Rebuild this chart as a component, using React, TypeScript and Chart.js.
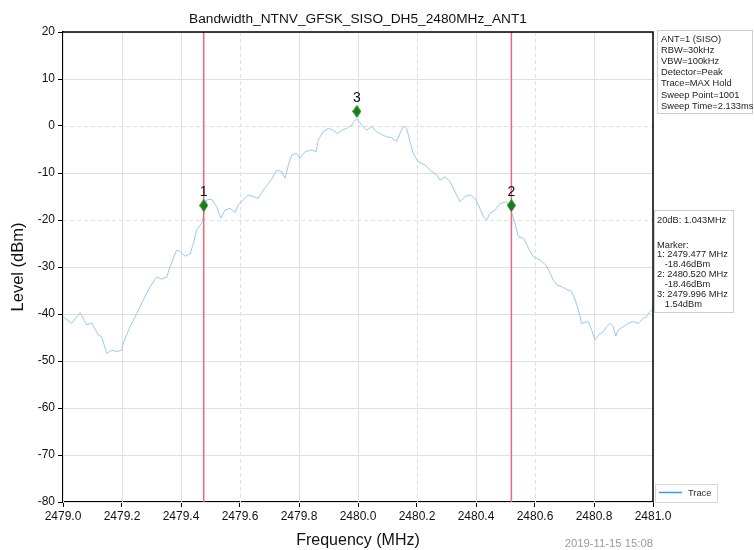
import React, { useEffect, useRef } from "react";
import { Chart, registerables } from "chart.js";

Chart.register(...registerables);

const TITLE = "Bandwidth_NTNV_GFSK_SISO_DH5_2480MHz_ANT1";
const X_TITLE = "Frequency (MHz)";
const Y_TITLE = "Level (dBm)";
const TIMESTAMP = "2019-11-15 15:08";
const LEGEND_LABEL = "Trace";

const X_MIN = 2479.0;
const X_MAX = 2481.0;
const Y_MIN = -80;
const Y_MAX = 20;

const xTicks = [2479.0, 2479.2, 2479.4, 2479.6, 2479.8, 2480.0, 2480.2, 2480.4, 2480.6, 2480.8, 2481.0];
const yTicks = [20, 10, 0, -10, -20, -30, -40, -50, -60, -70, -80];

const traceFreqs = [
  2479.001, 2479.029, 2479.058, 2479.080, 2479.097, 2479.120, 2479.131, 2479.148, 2479.165, 2479.182,
  2479.199, 2479.204, 2479.227, 2479.250, 2479.272, 2479.295, 2479.318, 2479.335, 2479.352, 2479.363,
  2479.385, 2479.397, 2479.414, 2479.431, 2479.442, 2479.453, 2479.470, 2479.478, 2479.487, 2479.504,
  2479.521, 2479.535, 2479.549, 2479.566, 2479.583, 2479.594, 2479.611, 2479.628, 2479.645, 2479.662,
  2479.679, 2479.696, 2479.707, 2479.724, 2479.741, 2479.753, 2479.764, 2479.775, 2479.792, 2479.803,
  2479.820, 2479.843, 2479.858, 2479.865, 2479.882, 2479.899, 2479.916, 2479.930, 2479.945, 2479.962,
  2479.979, 2479.986, 2479.996, 2480.013, 2480.029, 2480.046, 2480.063, 2480.080, 2480.097, 2480.114,
  2480.131, 2480.142, 2480.154, 2480.165, 2480.176, 2480.187, 2480.204, 2480.227, 2480.250, 2480.267,
  2480.278, 2480.295, 2480.312, 2480.329, 2480.346, 2480.363, 2480.380, 2480.397, 2480.408, 2480.425,
  2480.436, 2480.447, 2480.464, 2480.481, 2480.504, 2480.521, 2480.532, 2480.544, 2480.561, 2480.578,
  2480.594, 2480.617, 2480.640, 2480.651, 2480.662, 2480.674, 2480.691, 2480.708, 2480.724, 2480.736,
  2480.747, 2480.758, 2480.769, 2480.781, 2480.792, 2480.803, 2480.815, 2480.831, 2480.843, 2480.854,
  2480.865, 2480.874, 2480.882, 2480.899, 2480.916, 2480.933, 2480.950, 2480.967, 2480.978, 2480.990,
  2481.000,
];

const traceLevels = [
  -40.6, -42.0, -39.7, -42.3, -41.9, -44.5, -44.8, -48.4, -47.7, -48.0,
  -47.7, -46.2, -42.7, -39.9, -37.0, -34.2, -32.1, -32.6, -32.1, -29.9,
  -26.4, -26.7, -27.7, -27.2, -25.0, -22.1, -20.7, -18.5, -15.7, -15.6,
  -17.2, -19.6, -17.9, -17.5, -18.4, -16.8, -15.7, -14.7, -15.0, -15.4,
  -13.6, -12.3, -11.3, -9.4, -9.7, -11.1, -8.3, -6.2, -5.8, -6.9,
  -5.5, -5.1, -5.5, -3.0, -1.2, -0.5, -0.9, -1.6, -0.9, -0.5,
  0.2, 0.9, 1.5, 0.2, -0.9, -0.1, -1.2, -1.8, -2.3, -2.5,
  -3.3, -1.6, -0.1, -0.5, -3.3, -5.8, -7.6, -8.3, -9.7, -10.4,
  -11.5, -10.8, -11.8, -14.0, -16.1, -15.0, -14.7, -15.4, -16.8, -19.3,
  -20.0, -18.6, -17.9, -16.5, -16.1, -18.5, -20.7, -23.6, -23.9, -26.0,
  -27.8, -28.5, -29.8, -31.3, -32.8, -33.8, -34.2, -34.8, -35.2, -37.0,
  -39.1, -42.0, -41.8, -41.6, -43.4, -45.5, -44.5, -43.8, -42.7, -42.0,
  -42.7, -44.7, -43.4, -42.7, -42.0, -41.6, -42.0, -40.9, -40.6, -39.5,
  -39.0,
];

const markerLabels = ["1", "2", "3"];
const markerFreqs = [2479.477, 2480.52, 2479.996];
const markerLevels = [-16.9, -16.9, 3.1];
const boundaryFreqs = [2479.477, 2480.52];

const infoLines = [
  "ANT=1 (SISO)",
  "RBW=30kHz",
  "VBW=100kHz",
  "Detector=Peak",
  "Trace=MAX Hold",
  "Sweep Point=1001",
  "Sweep Time=2.133ms",
];
const bandwidthLine = "20dB: 1.043MHz";
const markerInfoLines = [
  "Marker:",
  "1: 2479.477 MHz",
  "   -18.46dBm",
  "2: 2480.520 MHz",
  "   -18.46dBm",
  "3: 2479.996 MHz",
  "   1.54dBm",
];

const dashedXGrid = [2479.6, 2480.2, 2480.6];
const dashedYGrid = [0, -20];

const FONT = '"Liberation Sans", Arial, Helvetica, sans-serif';

export default function App() {
  const ref = useRef<HTMLCanvasElement | null>(null);

  useEffect(() => {
    const canvas = ref.current;
    if (!canvas) return;

    const diamond = document.createElement("canvas");
    diamond.width = 9;
    diamond.height = 13;
    const dctx = diamond.getContext("2d");
    if (dctx) {
      dctx.fillStyle = "#1a7f1a";
      dctx.beginPath();
      dctx.moveTo(4.5, 0);
      dctx.lineTo(9, 6.5);
      dctx.lineTo(4.5, 13);
      dctx.lineTo(0, 6.5);
      dctx.closePath();
      dctx.fill();
    }

    const gridPlugin = {
      id: "customGrid",
      beforeDatasetsDraw(chart: any) {
        const { ctx, chartArea } = chart;
        const xs = chart.scales.x;
        const ys = chart.scales.y;
        ctx.save();
        ctx.lineWidth = 1;
        ctx.strokeStyle = "#e0e0e0";
        xTicks.forEach((v) => {
          const px = Math.round(xs.getPixelForValue(v)) + 0.5;
          ctx.setLineDash(dashedXGrid.includes(v) ? [4, 3] : []);
          ctx.beginPath();
          ctx.moveTo(px, chartArea.top);
          ctx.lineTo(px, chartArea.bottom);
          ctx.stroke();
        });
        yTicks.forEach((v) => {
          const py = Math.round(ys.getPixelForValue(v)) + 0.5;
          ctx.setLineDash(dashedYGrid.includes(v) ? [4, 3] : []);
          ctx.beginPath();
          ctx.moveTo(chartArea.left, py);
          ctx.lineTo(chartArea.right, py);
          ctx.stroke();
        });
        ctx.restore();
      },
    };

    const overlayPlugin = {
      id: "overlay",
      afterDraw(chart: any) {
        const { ctx, chartArea } = chart;
        const xs = chart.scales.x;
        const ys = chart.scales.y;
        const cx = (chartArea.left + chartArea.right) / 2;
        const cy = (chartArea.top + chartArea.bottom) / 2;
        ctx.save();

        // top + right frame
        ctx.strokeStyle = "#000";
        ctx.lineWidth = 1.5;
        ctx.beginPath();
        ctx.moveTo(chartArea.left, chartArea.top);
        ctx.lineTo(chartArea.right, chartArea.top);
        ctx.lineTo(chartArea.right, chartArea.bottom);
        ctx.stroke();

        // title
        ctx.fillStyle = "#111";
        ctx.textAlign = "center";
        ctx.textBaseline = "middle";
        ctx.font = `13.7px ${FONT}`;
        ctx.fillText(TITLE, cx, 19);

        // axis titles
        ctx.font = `16px ${FONT}`;
        ctx.fillText(X_TITLE, cx, 541);
        ctx.save();
        ctx.font = `16.5px ${FONT}`;
        ctx.translate(18, cy);
        ctx.rotate(-Math.PI / 2);
        ctx.fillText(Y_TITLE, 0, 0);
        ctx.restore();

        // timestamp
        ctx.font = `11.3px ${FONT}`;
        ctx.fillStyle = "#9a9a9a";
        ctx.textAlign = "right";
        ctx.fillText(TIMESTAMP, chartArea.right, 544);

        // marker numbers
        ctx.font = `14px ${FONT}`;
        ctx.fillStyle = "#111";
        ctx.textAlign = "center";
        markerLabels.forEach((lab, i) => {
          const px = xs.getPixelForValue(markerFreqs[i]);
          const py = ys.getPixelForValue(markerLevels[i]);
          ctx.fillText(lab, px, py - 13.5);
        });

        // info box 1
        ctx.lineWidth = 1;
        ctx.strokeStyle = "#cfcfcf";
        ctx.fillStyle = "#fff";
        ctx.fillRect(657.5, 30.5, 95, 83);
        ctx.strokeRect(657.5, 30.5, 95, 83);
        ctx.fillStyle = "#222";
        ctx.textAlign = "left";
        ctx.font = `9.3px ${FONT}`;
        infoLines.forEach((t, i) => ctx.fillText(t, 661, 39 + i * 11.2));

        // info box 2
        ctx.fillStyle = "#fff";
        ctx.fillRect(654.5, 210.5, 79, 102);
        ctx.strokeRect(654.5, 210.5, 79, 102);
        ctx.fillStyle = "#222";
        ctx.fillText(bandwidthLine, 657, 220);
        markerInfoLines.forEach((t, i) => ctx.fillText(t, 657, 245 + i * 9.9));

        // legend
        ctx.fillStyle = "#fff";
        ctx.fillRect(655.5, 484.5, 62, 18);
        ctx.strokeStyle = "#d6d6d6";
        ctx.strokeRect(655.5, 484.5, 62, 18);
        ctx.strokeStyle = "#3a9ae0";
        ctx.lineWidth = 1.5;
        ctx.beginPath();
        ctx.moveTo(659, 492.5);
        ctx.lineTo(682, 492.5);
        ctx.stroke();
        ctx.fillStyle = "#333";
        ctx.fillText(LEGEND_LABEL, 688, 493);

        ctx.restore();
      },
    };

    const tickFont = { family: FONT, size: 12 };

    const chart = new Chart(canvas, {
      type: "line",
      data: {
        datasets: [
          {
            label: "Markers",
            data: markerFreqs.map((f, i) => ({ x: f, y: markerLevels[i] })),
            showLine: false,
            pointStyle: diamond as any,
            pointRadius: 5,
            order: 0,
          } as any,
          {
            label: "Bound1",
            data: [
              { x: boundaryFreqs[0], y: Y_MAX },
              { x: boundaryFreqs[0], y: Y_MIN },
            ],
            borderColor: "#f2667f",
            borderWidth: 1.5,
            pointRadius: 0,
            order: 1,
          },
          {
            label: "Bound2",
            data: [
              { x: boundaryFreqs[1], y: Y_MAX },
              { x: boundaryFreqs[1], y: Y_MIN },
            ],
            borderColor: "#f2667f",
            borderWidth: 1.5,
            pointRadius: 0,
            order: 1,
          },
          {
            label: LEGEND_LABEL,
            data: traceFreqs.map((f, i) => ({ x: f, y: traceLevels[i] })),
            borderColor: "#8cc5ec",
            borderWidth: 0.9,
            pointRadius: 0,
            tension: 0,
            order: 2,
          },
        ],
      },
      options: {
        responsive: false,
        animation: false,
        events: [],
        layout: { padding: { left: 0, right: 101, top: 32, bottom: 18 } },
        plugins: {
          legend: { display: false },
          tooltip: { enabled: false },
          title: { display: false },
        },
        scales: {
          x: {
            type: "linear",
            min: X_MIN,
            max: X_MAX,
            afterBuildTicks: (s: any) => {
              s.ticks = xTicks.map((v) => ({ value: v }));
            },
            afterFit: (s: any) => {
              s.height = 30;
            },
            grid: {
              drawOnChartArea: false,
              drawTicks: true,
              tickLength: 5,
              tickColor: "#000",
              tickWidth: 1,
            },
            border: { display: true, color: "#000", width: 1.5 },
            ticks: {
              color: "#111",
              font: tickFont,
              padding: 2,
              maxRotation: 0,
              autoSkip: false,
              callback: (v: any) => Number(v).toFixed(1),
            },
          },
          y: {
            type: "linear",
            min: Y_MIN,
            max: Y_MAX,
            afterBuildTicks: (s: any) => {
              s.ticks = yTicks.map((v) => ({ value: v }));
            },
            afterFit: (s: any) => {
              s.width = 63;
            },
            grid: {
              drawOnChartArea: false,
              drawTicks: true,
              tickLength: 5,
              tickColor: "#000",
              tickWidth: 1,
            },
            border: { display: true, color: "#000", width: 1.5 },
            ticks: {
              color: "#111",
              font: tickFont,
              padding: 3,
              autoSkip: false,
              callback: (v: any) => String(v),
            },
          },
        },
      },
      plugins: [gridPlugin, overlayPlugin],
    });

    return () => chart.destroy();
  }, []);

  return (
    <div style={{ position: "fixed", left: 0, top: 0, width: 754, height: 550, background: "#fff" }}>
      <canvas ref={ref} width={754} height={550} style={{ display: "block" }} />
    </div>
  );
}
